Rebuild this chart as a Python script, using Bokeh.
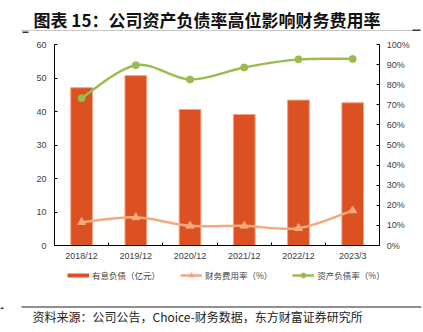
from bokeh.plotting import figure
from bokeh.embed import file_html
from bokeh.resources import INLINE
from bokeh.models import (Range1d, LinearAxis, FixedTicker, PrintfTickFormatter, Label,
                          Legend, LegendItem, BoxAnnotation, ColumnDataSource)

categories = ["2018/12", "2019/12", "2020/12", "2021/12", "2022/12", "2023/3"]
debt = [47.1, 50.7, 40.6, 39.1, 43.4, 42.6]          # 有息负债（亿元）
fin_rate = [11.6, 14.0, 9.8, 9.8, 8.6, 17.4]          # 财务费用率（%）
asset_rate = [73.3, 89.7, 82.6, 88.6, 92.6, 92.8]     # 资产负债率（%）
left_ticks = [0, 10, 20, 30, 40, 50, 60]
right_ticks = [0, 10, 20, 30, 40, 50, 60, 70, 80, 90, 100]

title_text = "图表 15：公司资产负债率高位影响财务费用率"
source_text = "资料来源：公司公告，Choice-财务数据，东方财富证券研究所"
legend_labels = ["有息负债（亿元）", "财务费用率（%）", "资产负债率（%）"]

BAR = "#DC5121"
ORANGE = "#F4A97C"
GREEN = "#9BBB4F"
TXT = "#404040"
NUM_FONT = "Liberation Sans"
CJK = "Noto Sans CJK SC"
NAN = float("nan")

# layout (canvas pixels): the frame covers the whole canvas; the plot box sits inside it
W, H = 423, 332
BOX_L, BOX_R, BOX_T, BOX_B = 54, 379.3, 44, 245
n = len(categories)
LMAX, RMAX = left_ticks[-1], right_ticks[-1]
ux = (BOX_R - BOX_L) / n
uy = (BOX_B - BOX_T) / LMAX
ur = (BOX_B - BOX_T) / RMAX

p = figure(width=W, height=H, output_backend="svg", toolbar_location=None,
           x_range=Range1d(-BOX_L / ux, (W - BOX_L) / ux),
           y_range=Range1d(-(H - BOX_B) / uy, BOX_B / uy),
           min_border=0, x_axis_type=None, y_axis_type=None)
p.grid.visible = False
p.outline_line_color = None
p.background_fill_color = "white"
p.border_fill_color = "white"
p.extra_y_ranges = {"right": Range1d(-(H - BOX_B) / ur, BOX_B / ur)}

xs = [i + 0.5 for i in range(n)]

# axes (fixed at the plot box edges)
xaxis = LinearAxis(fixed_location=0, bounds=(0, n),
                   ticker=FixedTicker(ticks=xs, minor_ticks=list(range(1, n))))
xaxis.major_label_overrides = {x: c for x, c in zip(xs, categories)}
xaxis.major_tick_in = 0
xaxis.major_tick_out = 0
xaxis.minor_tick_in = 3
xaxis.minor_tick_out = 0
xaxis.minor_tick_line_color = "black"
xaxis.major_label_standoff = 5
p.add_layout(xaxis, "below")

laxis = LinearAxis(fixed_location=0, bounds=(0, LMAX), ticker=FixedTicker(ticks=left_ticks))
laxis.major_label_standoff = 8
p.add_layout(laxis, "left")

raxis = LinearAxis(fixed_location=n, bounds=(0, RMAX), y_range_name="right",
                   ticker=FixedTicker(ticks=right_ticks),
                   formatter=PrintfTickFormatter(format="%d%%"))
raxis.major_label_standoff = 7
p.add_layout(raxis, "right")

for ax in [laxis, raxis]:
    ax.major_tick_in = 3
    ax.major_tick_out = 0
    ax.minor_tick_line_color = None
    ax.major_tick_line_color = "black"
for ax in [xaxis, laxis, raxis]:
    ax.axis_line_color = "black"
    ax.major_label_text_font = NUM_FONT
    ax.major_label_text_font_size = "9px"
    ax.major_label_text_color = TXT

src = ColumnDataSource(dict(x=xs, debt=debt, fin=fin_rate, asset=asset_rate))
bars = p.vbar(x="x", top="debt", width=0.4, source=src, fill_color=BAR,
              line_color="#F2A07E", line_width=1, level="underlay")


def bezier_data(xv, yv, t=1 / 6):
    m = len(xv)
    d = dict(x0=[], y0=[], x1=[], y1=[], cx0=[], cy0=[], cx1=[], cy1=[])
    for i in range(m - 1):
        a = i - 1 if i > 0 else i
        b = i + 2 if i + 2 < m else i + 1
        d["x0"].append(xv[i]); d["y0"].append(yv[i])
        d["x1"].append(xv[i + 1]); d["y1"].append(yv[i + 1])
        d["cx0"].append(xv[i] + (xv[i + 1] - xv[a]) * t)
        d["cy0"].append(yv[i] + (yv[i + 1] - yv[a]) * t)
        d["cx1"].append(xv[i + 1] - (xv[b] - xv[i]) * t)
        d["cy1"].append(yv[i + 1] - (yv[b] - yv[i]) * t)
    return ColumnDataSource(d)


p.bezier(x0="x0", y0="y0", x1="x1", y1="y1", cx0="cx0", cy0="cy0", cx1="cx1", cy1="cy1",
         source=bezier_data(xs, fin_rate), line_color=ORANGE, line_width=2.5, y_range_name="right")
p.bezier(x0="x0", y0="y0", x1="x1", y1="y1", cx0="cx0", cy0="cy0", cx1="cx1", cy1="cy1",
         source=bezier_data(xs, asset_rate), line_color=GREEN, line_width=2.5, y_range_name="right")

fin_pts = p.scatter(x="x", y="fin", source=src, marker="triangle", size=8, fill_color=ORANGE,
                    line_color=ORANGE, y_range_name="right")
asset_pts = p.scatter(x="x", y="asset", source=src, marker="circle", size=7, fill_color=GREEN,
                      line_color=GREEN, y_range_name="right")

# legend swatches (NaN placeholders: draw nothing in the plot, only the legend glyphs)
bar_swatch = p.line(x=[NAN], y=[NAN], line_color=BAR, line_width=4)
fin_swatch = p.line(x=[NAN], y=[NAN], line_color=ORANGE, line_width=2.5, y_range_name="right")
asset_swatch = p.line(x=[NAN], y=[NAN], line_color=GREEN, line_width=2.5, y_range_name="right")
fin_mark = p.scatter(x=[NAN], y=[NAN], marker="triangle", size=6, fill_color=ORANGE,
                     line_color=ORANGE, y_range_name="right")
asset_mark = p.scatter(x=[NAN], y=[NAN], marker="circle", size=5, fill_color=GREEN,
                       line_color=GREEN, y_range_name="right")

legend = Legend(items=[
    LegendItem(label=legend_labels[0], renderers=[bar_swatch]),
    LegendItem(label=legend_labels[1], renderers=[fin_swatch, fin_mark]),
    LegendItem(label=legend_labels[2], renderers=[asset_swatch, asset_mark]),
], orientation="horizontal", location=(67, H - 281), padding=0, margin=0, spacing=20,
    glyph_width=22, glyph_height=12, label_height=12, label_standoff=3,
    label_text_font=CJK, label_text_font_size="8.5px", label_text_color=TXT,
    border_line_alpha=0, background_fill_alpha=0)
p.add_layout(legend, "center")

# title and source (screen units: x from left edge, y from bottom edge)
p.add_layout(Label(x=33, y=H - 19, x_units="screen", y_units="screen", text=title_text,
                   text_font=CJK, text_font_size="17px", text_font_style="bold",
                   text_color="#111111", text_baseline="middle"))
p.add_layout(Label(x=32, y=H - 316, x_units="screen", y_units="screen", text=source_text,
                   text_font=CJK, text_font_size="12px", text_color="#222222",
                   text_baseline="middle"))


def rule(l, r, top_px, bot_px, color):
    p.add_layout(BoxAnnotation(left=l, right=r, top=H - top_px, bottom=H - bot_px,
                               left_units="screen", right_units="screen",
                               top_units="screen", bottom_units="screen",
                               fill_color=color, fill_alpha=1, line_alpha=0))


rule(20, 413, 29.5, 30.5, "#C8C8C8")
rule(22, 28, 31, 32.5, "#333333")
rule(412, 420, 29, 30.5, "#333333")
rule(21, 421, 306, 307, "#222222")
rule(0, 3, 307, 308.5, "#333333")

open("out.html", "w").write(file_html(p, INLINE))
